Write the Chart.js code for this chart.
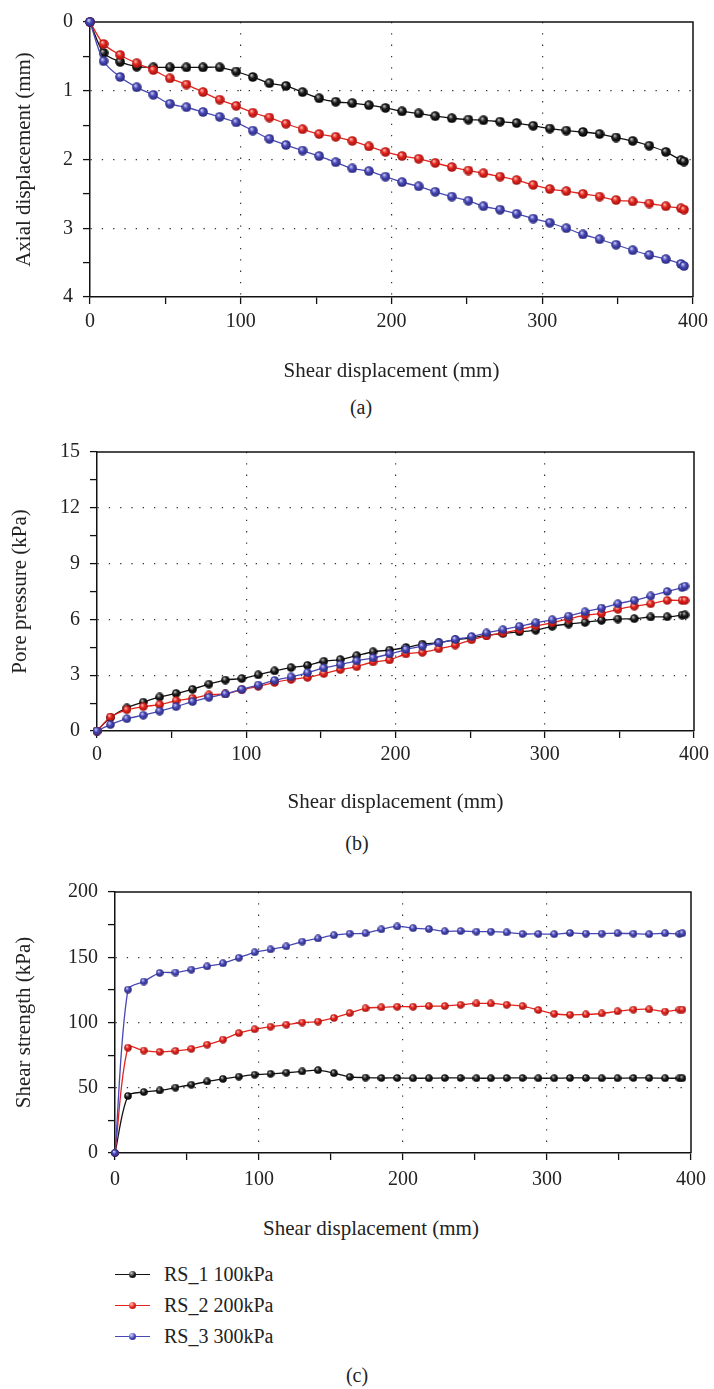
<!DOCTYPE html>
<html>
<head>
<meta charset="utf-8">
<title>Shear displacement curves</title>
<script src="https://cdn.jsdelivr.net/npm/chart.js@4.4.1/dist/chart.umd.min.js"></script>
<style>
    body { margin: 0; background: #fff; }
    #page { position: relative; width: 714px; height: 1389px; font-family: 'Liberation Serif', 'DejaVu Serif', serif; color: #222; }
    #page canvas { position: absolute; left: 0; }
    .caption { position: absolute; font-size: 20px; transform: translate(-50%, -50%); white-space: nowrap; }
    .caption.axis { font-size: 21px; }
    .legend { position: absolute; left: 115px; top: 1259px; }
    .legend-row { position: relative; height: 31px; line-height: 31px; font-size: 20px; padding-left: 49px; white-space: nowrap; }
    .legend-row .ln { position: absolute; left: 0; top: 15px; width: 35px; border-top: 1.3px solid; }
    .legend-row .dot { position: absolute; left: 14px; top: 12px; width: 7px; height: 7px; border-radius: 50%; }
</style>
</head>
<body>
<div id="page">
    <canvas id="chartAxial" width="714" height="385" style="top:0px"></canvas>
    <div class="caption" style="left:361px; top:407px">(a)</div>

    <canvas id="chartPore" width="714" height="385" style="top:430px"></canvas>
    <div class="caption" style="left:357px; top:843px">(b)</div>

    <canvas id="chartStrength" width="714" height="330" style="top:870px"></canvas>
    <div class="caption axis" style="left:371px; top:1228px">Shear displacement (mm)</div>

    <div class="legend" id="legend"></div>
    <div class="caption" style="left:357px; top:1375px">(c)</div>
</div>

<script>
// shear displacement (mm), same sampling for all tests
const shear = [0, 9, 20, 31, 42, 53, 64, 75, 86, 97, 108, 119, 130, 141, 152, 163, 174,
    185, 196, 207, 218, 229, 240, 251, 261, 272, 283, 294, 305, 316, 327, 338, 349, 360, 371, 382, 392, 394];

const seriesNames = ['RS_1 100kPa', 'RS_2 200kPa', 'RS_3 300kPa'];

// (a) axial displacement (mm)
const axialRS1 = [0, 0.45, 0.58, 0.65, 0.66, 0.66, 0.66, 0.66, 0.66, 0.72, 0.80, 0.89, 0.93, 1.02, 1.11, 1.16, 1.18,
    1.21, 1.25, 1.30, 1.33, 1.37, 1.40, 1.42, 1.43, 1.45, 1.47, 1.51, 1.55, 1.58, 1.60, 1.63, 1.68, 1.73, 1.80, 1.89, 2.01, 2.03];
const axialRS2 = [0, 0.32, 0.48, 0.60, 0.70, 0.82, 0.91, 1.02, 1.13, 1.22, 1.32, 1.39, 1.48, 1.56, 1.63, 1.67, 1.73,
    1.81, 1.89, 1.95, 1.99, 2.05, 2.11, 2.16, 2.20, 2.25, 2.30, 2.37, 2.43, 2.46, 2.50, 2.54, 2.59, 2.61, 2.64, 2.68, 2.71, 2.73];
const axialRS3 = [0, 0.57, 0.80, 0.95, 1.06, 1.19, 1.24, 1.31, 1.38, 1.46, 1.58, 1.70, 1.79, 1.87, 1.95, 2.04, 2.13,
    2.17, 2.25, 2.33, 2.39, 2.47, 2.54, 2.60, 2.68, 2.73, 2.79, 2.86, 2.92, 3.00, 3.09, 3.16, 3.24, 3.32, 3.39, 3.45, 3.52, 3.55];

// (b) pore pressure (kPa)
const poreRS1 = [0, 0.72, 1.24, 1.55, 1.83, 2.02, 2.24, 2.52, 2.74, 2.82, 3.02, 3.23, 3.41, 3.53, 3.75, 3.84, 4.05,
    4.26, 4.35, 4.49, 4.67, 4.75, 4.90, 5.01, 5.15, 5.24, 5.33, 5.42, 5.63, 5.75, 5.84, 5.95, 6.02, 6.04, 6.13, 6.14, 6.23, 6.24];
const poreRS2 = [0, 0.75, 1.14, 1.31, 1.42, 1.63, 1.76, 1.94, 1.99, 2.22, 2.40, 2.61, 2.77, 2.88, 3.09, 3.30, 3.46,
    3.71, 3.82, 4.14, 4.23, 4.42, 4.62, 4.90, 5.11, 5.27, 5.45, 5.65, 5.82, 6.02, 6.23, 6.32, 6.54, 6.71, 6.84, 7.02, 7.02, 7.02];
const poreRS3 = [0, 0.34, 0.66, 0.85, 1.07, 1.31, 1.58, 1.81, 1.99, 2.24, 2.47, 2.72, 2.91, 3.13, 3.39, 3.57, 3.77,
    3.93, 4.14, 4.38, 4.56, 4.74, 4.92, 5.08, 5.27, 5.45, 5.63, 5.82, 5.98, 6.18, 6.41, 6.61, 6.84, 7.03, 7.26, 7.50, 7.71, 7.79];

// (c) shear strength (kPa)
const strengthRS1 = [0, 43.7, 46.7, 47.9, 50.1, 52.3, 54.8, 56.8, 58.5, 60.0, 60.7, 61.5, 62.5, 63.5, 61.2, 58.3, 57.8,
    57.5, 57.5, 57.3, 57.3, 57.5, 57.5, 57.3, 57.3, 57.5, 57.5, 57.3, 57.3, 57.5, 57.5, 57.3, 57.3, 57.5, 57.5, 57.3, 57.3, 57.3];
const strengthRS2 = [0, 80.7, 78.5, 77.5, 78.3, 79.8, 83.0, 86.9, 91.9, 94.8, 96.8, 98.3, 100.0, 100.7, 103.5, 107.2, 110.9,
    111.6, 112.1, 112.1, 112.6, 112.6, 113.6, 114.6, 114.6, 113.6, 112.6, 109.6, 106.7, 105.9, 106.2, 106.9, 108.6, 109.9, 110.1, 108.4, 109.9, 109.9];
const strengthRS3 = [0, 125.2, 131.4, 138.0, 138.3, 140.5, 143.0, 145.4, 149.6, 153.8, 156.0, 158.3, 162.0, 164.4, 166.9, 168.1, 168.4,
    171.4, 173.6, 172.3, 171.6, 169.9, 170.1, 169.6, 169.6, 169.1, 167.9, 167.9, 167.7, 168.6, 168.1, 168.1, 168.4, 168.1, 167.7, 168.4, 167.9, 168.4];

const lineColors = ['#111111', '#e3231c', '#4747b5'];
const ballShades = [
    { light: '#c8c8c8', mid: '#1e1e1e', dark: '#000000' },
    { light: '#ffc4b8', mid: '#e3231c', dark: '#9c1010' },
    { light: '#d4d4ff', mid: '#4747b5', dark: '#262678' }
];

const textColor = '#222';
const tickFont = { family: "'Liberation Serif', serif", size: 20 };
const titleFont = { family: "'Liberation Serif', serif", size: 21 };

function makeBall(shade, size) {
    const c = document.createElement('canvas');
    c.width = size;
    c.height = size;
    const g = c.getContext('2d');
    const r = size / 2;
    const grad = g.createRadialGradient(r * 0.7, r * 0.6, r * 0.05, r, r, r);
    grad.addColorStop(0, shade.light);
    grad.addColorStop(0.45, shade.mid);
    grad.addColorStop(1, shade.dark);
    g.fillStyle = grad;
    g.beginPath();
    g.arc(r, r, r - 0.2, 0, Math.PI * 2);
    g.fill();
    return c;
}

// top + right frame of the plot box
const framePlugin = {
    id: 'frame',
    beforeDatasetsDraw(chart) {
        const a = chart.chartArea;
        const g = chart.ctx;
        g.save();
        g.strokeStyle = '#111';
        g.lineWidth = 1.5;
        g.beginPath();
        g.moveTo(a.left, a.top);
        g.lineTo(a.right, a.top);
        g.lineTo(a.right, a.bottom);
        g.stroke();
        g.restore();
    }
};

function buildDatasets(seriesList, ballSize) {
    return seriesList.map((values, i) => ({
        label: seriesNames[i],
        data: shear.map((x, k) => ({ x: x, y: values[k] })),
        borderColor: lineColors[i],
        borderWidth: 1.3,
        tension: 0.3,
        pointStyle: makeBall(ballShades[i], ballSize),
        pointRadius: ballSize / 2,
        clip: false,
        order: 3 - i
    }));
}

function isMajor(tick, step, min, max) {
    if (!tick) return false;
    const v = tick.value;
    return v > min && v < max && Math.abs(v / step - Math.round(v / step)) < 1e-6;
}

function xAxis(height, labelPad, showTitle, titlePad) {
    return {
        type: 'linear',
        min: 0,
        max: 400,
        title: { display: showTitle, text: 'Shear displacement (mm)', color: textColor, font: titleFont, padding: { top: 0, bottom: titlePad } },
        ticks: {
            stepSize: 50,
            autoSkip: false,
            maxRotation: 0,
            padding: labelPad,
            color: textColor,
            font: tickFont,
            callback: v => (v % 100 === 0 ? v : '')
        },
        grid: {
            color: c => (isMajor(c.tick, 100, 0, 400) ? '#333' : 'transparent'),
            lineWidth: 1.2,
            tickLength: 7,
            tickColor: '#111',
            tickWidth: 1.3
        },
        border: { color: '#111', width: 1.5, dash: [1.3, 10] },
        afterFit: s => { s.height = height; }
    };
}

function yAxis(opts) {
    return {
        type: 'linear',
        min: opts.min,
        max: opts.max,
        reverse: !!opts.reverse,
        title: { display: true, text: opts.title, color: textColor, font: titleFont, padding: { top: opts.titlePad, bottom: 0 } },
        ticks: {
            stepSize: opts.minor,
            autoSkip: false,
            padding: 10,
            color: textColor,
            font: tickFont,
            callback: v => (Math.abs(v / opts.major - Math.round(v / opts.major)) < 1e-6 ? v : '')
        },
        grid: {
            color: c => (isMajor(c.tick, opts.major, opts.min, opts.max) ? '#333' : 'transparent'),
            lineWidth: 1.2,
            tickLength: 7,
            tickColor: '#111',
            tickWidth: 1.3
        },
        border: { color: '#111', width: 1.5, dash: [1.3, 10] },
        afterFit: s => { s.width = opts.width; }
    };
}

function baseOptions(padding, xScale, yScale) {
    return {
        responsive: false,
        animation: false,
        layout: { padding: padding },
        plugins: { legend: { display: false }, tooltip: { enabled: false } },
        scales: { x: xScale, y: yScale }
    };
}

// (a)
const ctxA = document.getElementById('chartAxial').getContext('2d');
new Chart(ctxA, {
    type: 'line',
    data: { datasets: buildDatasets([axialRS1, axialRS2, axialRS3], 10) },
    options: baseOptions({ top: 13, right: 17, left: 0, bottom: 0 },
        xAxis(88, 6, true, 1),
        yAxis({ min: 0, max: 4, minor: 0.5, major: 1, reverse: true, title: 'Axial displacement (mm)', titlePad: 12, width: 90 })),
    plugins: [framePlugin]
});

// (b)
const ctxB = document.getElementById('chartPore').getContext('2d');
new Chart(ctxB, {
    type: 'line',
    data: { datasets: buildDatasets([poreRS1, poreRS2, poreRS3], 9) },
    options: baseOptions({ top: 19, right: 15, left: 0, bottom: 0 },
        xAxis(84, 5, true, 0),
        yAxis({ min: 0, max: 15, minor: 1.5, major: 3, title: 'Pore pressure (kPa)', titlePad: 8, width: 97 })),
    plugins: [framePlugin]
});

// (c)
const ctxC = document.getElementById('chartStrength').getContext('2d');
new Chart(ctxC, {
    type: 'line',
    data: { datasets: buildDatasets([strengthRS1, strengthRS2, strengthRS3], 8) },
    options: baseOptions({ top: 13, right: 18, left: 0, bottom: 0 },
        xAxis(47, 8, false, 0),
        yAxis({ min: 0, max: 200, minor: 25, major: 50, title: 'Shear strength (kPa)', titlePad: 12, width: 115 })),
    plugins: [framePlugin]
});

// legend below panel (c)
const legendBox = document.getElementById('legend');
seriesNames.forEach((name, i) => {
    const s = ballShades[i];
    const row = document.createElement('div');
    row.className = 'legend-row';
    row.innerHTML = '<span class="ln" style="border-color:' + lineColors[i] + '"></span>' +
        '<span class="dot" style="background: radial-gradient(circle at 35% 30%, ' + s.light + ', ' + s.mid + ' 50%, ' + s.dark + ')"></span>' +
        name;
    legendBox.appendChild(row);
});
</script>
</body>
</html>
